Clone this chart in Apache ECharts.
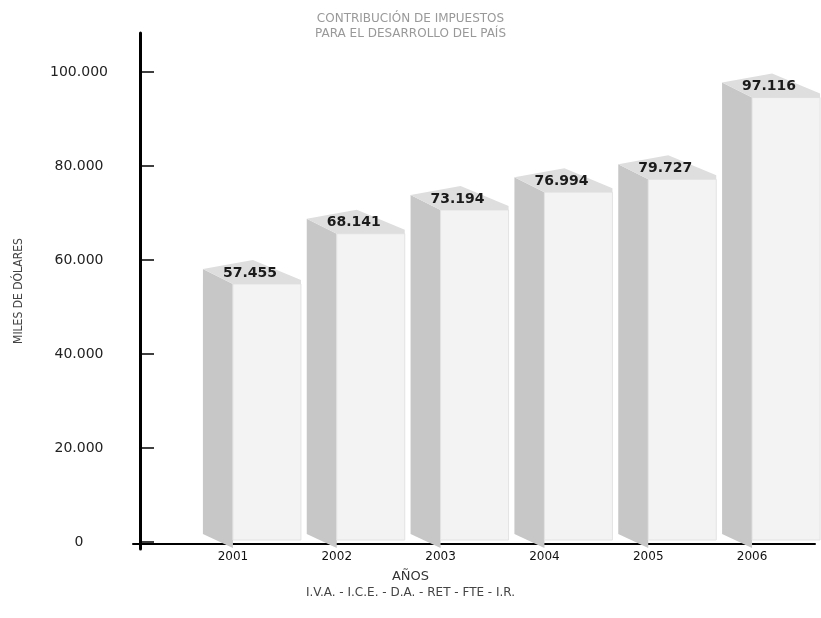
<!DOCTYPE html>
<html>
<head>
<meta charset="utf-8">
<script src="https://cdn.jsdelivr.net/npm/echarts@6/dist/echarts.min.js"></script>
<style>
  html, body { margin: 0; padding: 0; background: #fff; }
  #chart { width: 821px; height: 618px; }
</style>
</head>
<body>
<div id="chart"></div>
<script>
const years = ['2001', '2002', '2003', '2004', '2005', '2006'];
const recaudacion = [57455, 68141, 73194, 76994, 79727, 97116];
const yTicks = [0, 20000, 40000, 60000, 80000, 100000];
const yTickLabels = ['0', '20.000', '40.000', '60.000', '80.000', '100.000'];

const chart = echarts.init(document.getElementById('chart'));

function fmtMiles(v) {
    return String(v).replace(/\B(?=(\d{3})+(?!\d))/g, '.');
}

// pseudo 3D bar: grey side face, light front, top face with the value
function renderBar(params, api) {
    const idx = api.value(0);
    const val = api.value(1);
    const top = api.coord([idx, val]);
    const base = api.coord([idx, 0]);
    const c = top[0], yt = top[1], y0 = base[1];
    return {
        type: 'group',
        children: [
            {
                type: 'polygon',
                shape: { points: [[c - 30, yt - 3], [c, yt + 12], [c, y0 + 6], [c - 30, y0 - 8]] },
                style: { fill: '#c7c7c7' }
            },
            {
                type: 'polygon',
                shape: { points: [[c, yt + 12], [c + 68, yt + 12], [c + 68, y0 - 2], [c, y0 - 2]] },
                style: { fill: '#f3f3f3', stroke: '#e2e2e2', lineWidth: 1 }
            },
            {
                type: 'polygon',
                shape: { points: [[c - 30, yt - 3], [c + 20, yt - 12], [c + 68, yt + 8], [c + 68, yt + 12], [c, yt + 12]] },
                style: { fill: '#dedede' }
            },
            {
                type: 'text',
                style: {
                    x: c + 17,
                    y: yt + 1,
                    text: fmtMiles(val),
                    align: 'center',
                    verticalAlign: 'middle',
                    fontFamily: 'DejaVu Sans',
                    fontWeight: 'bold',
                    fontSize: 14,
                    fill: '#1a1a1a'
                }
            }
        ]
    };
}

const option = {
    backgroundColor: '#ffffff',
    animation: false,
    title: [
        {
            text: 'CONTRIBUCIÓN DE IMPUESTOS\nPARA EL DESARROLLO DEL PAÍS',
            left: 'center',
            top: 6,
            textStyle: { fontFamily: 'DejaVu Sans', fontSize: 12, fontWeight: 'normal', color: '#999', lineHeight: 15 }
        },
        {
            text: 'AÑOS',
            left: 'center',
            top: 565,
            textStyle: { fontFamily: 'DejaVu Sans', fontSize: 13, fontWeight: 'normal', color: '#333' }
        },
        {
            text: 'I.V.A. - I.C.E. - D.A. - RET - FTE - I.R.',
            left: 'center',
            top: 582,
            textStyle: { fontFamily: 'DejaVu Sans', fontSize: 12, fontWeight: 'normal', color: '#444' }
        }
    ],
    grid: [
        { left: 181, right: 17, top: 72, bottom: 76 },
        { left: 133, right: 6, top: 543, height: 1 },
        { left: 140, width: 1, top: 33, bottom: 69 }
    ],
    xAxis: [
        {
            gridIndex: 0,
            type: 'category',
            data: years,
            axisLine: { show: false },
            axisTick: { show: false },
            axisLabel: { margin: 9, fontFamily: 'DejaVu Sans', fontSize: 12, color: '#111' }
        },
        {
            gridIndex: 1,
            type: 'value',
            axisLine: { show: true, lineStyle: { color: '#000', width: 2 } },
            axisTick: { show: false },
            axisLabel: { show: false },
            splitLine: { show: false }
        },
        {
            gridIndex: 2,
            type: 'value',
            show: false
        }
    ],
    yAxis: [
        {
            gridIndex: 0,
            type: 'value',
            min: 0,
            max: 100000,
            interval: 20000,
            offset: 41,
            axisLine: { show: false },
            axisTick: { show: true, inside: true, length: 14, lineStyle: { color: '#000', width: 1.5 } },
            axisLabel: {
                margin: 61,
                align: 'center',
                fontFamily: 'DejaVu Sans',
                fontSize: 14,
                color: '#222',
                formatter: v => yTickLabels[yTicks.indexOf(v)] || ''
            },
            splitLine: { show: false }
        },
        {
            gridIndex: 1,
            type: 'value',
            show: false
        },
        {
            gridIndex: 2,
            type: 'value',
            name: 'MILES DE DÓLARES',
            nameLocation: 'middle',
            nameRotate: 90,
            nameGap: 115,
            nameTextStyle: { fontFamily: "'DejaVu Sans Condensed', 'Liberation Sans', sans-serif", fontSize: 12, color: '#444' },
            axisLine: { show: true, lineStyle: { color: '#000', width: 3 } },
            axisTick: { show: false },
            axisLabel: { show: false },
            splitLine: { show: false }
        }
    ],
    series: [
        {
            type: 'custom',
            xAxisIndex: 0,
            yAxisIndex: 0,
            renderItem: renderBar,
            encode: { x: 0, y: 1 },
            data: recaudacion.map((v, i) => [i, v])
        }
    ]
};

chart.setOption(option);
</script>
</body>
</html>
